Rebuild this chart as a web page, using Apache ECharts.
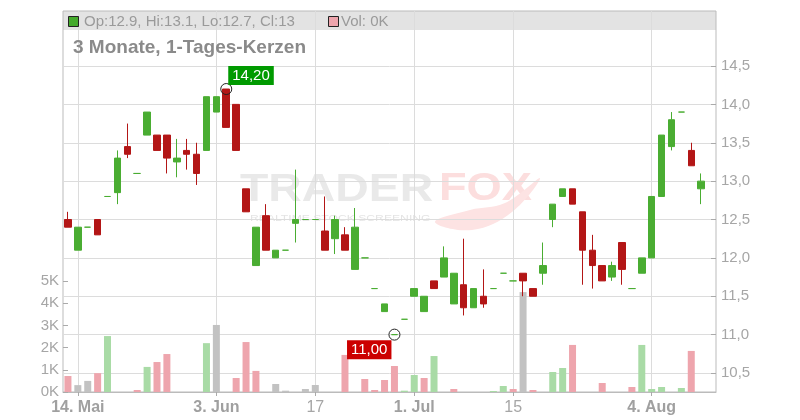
<!DOCTYPE html>
<html><head><meta charset="utf-8">
<script src="https://cdn.jsdelivr.net/npm/echarts@6/dist/echarts.min.js"></script>
<style>html,body{margin:0;padding:0;background:#fff}#c{width:800px;height:420px}</style>
</head><body><div id="c"></div>
<script>
// trading days 13 May 2025 – 12 Aug 2025
const dates = [
 '13.05','14.05','15.05','16.05','19.05','20.05','21.05','22.05','23.05','26.05','27.05','28.05','29.05','30.05',
 '02.06','03.06','04.06','05.06','06.06','09.06','10.06','11.06','12.06','13.06','16.06','17.06','18.06','19.06','20.06',
 '23.06','24.06','25.06','26.06','27.06','30.06',
 '01.07','02.07','03.07','04.07','07.07','08.07','09.07','10.07','11.07','14.07','15.07','16.07','17.07','18.07',
 '21.07','22.07','23.07','24.07','25.07','28.07','29.07','30.07','31.07',
 '01.08','04.08','05.08','06.08','07.08','08.08','11.08','12.08'];
const open  = [12.5,12.1,12.4,12.5,12.8,12.85,13.45,13.1,13.6,13.6,13.6,13.25,13.4,13.35,13.4,13.9,14.2,14.0,12.9,11.9,
               12.55,12.0,12.1,12.45,12.5,12.5,12.35,12.25,12.3,11.85,12.0,11.6,11.3,11.0,11.2,11.5,11.3,11.7,11.75,11.4,
               11.65,11.35,11.5,11.6,11.8,11.7,11.8,11.6,11.8,12.5,12.8,12.9,12.6,12.1,11.9,11.75,12.2,11.6,11.8,12.0,
               12.8,13.45,13.9,13.4,12.9];
const close = [12.4,12.4,12.4,12.3,12.8,13.3,13.35,13.1,13.9,13.4,13.3,13.3,13.35,13.1,14.1,14.1,13.7,13.4,12.6,12.4,
               12.1,12.1,12.1,12.5,12.5,12.5,12.1,12.5,12.1,12.4,12.0,11.6,11.4,11.0,11.2,11.6,11.5,11.6,12.0,11.8,
               11.35,11.6,11.4,11.6,11.8,11.7,11.7,11.5,11.9,12.7,12.9,12.7,12.1,11.9,11.7,11.9,11.85,11.6,12.0,12.8,
               13.6,13.8,13.9,13.2,13.0];
const low   = [12.4,12.1,12.4,12.3,12.8,12.7,13.3,13.1,13.6,13.4,13.1,13.05,13.15,12.95,13.4,13.9,13.7,13.4,12.6,11.9,
               12.1,12.0,12.1,12.2,12.5,12.5,12.1,12.05,12.1,11.85,12.0,11.6,11.3,11.0,11.2,11.5,11.3,11.6,11.75,11.4,
               11.25,11.35,11.35,11.6,11.8,11.7,11.5,11.5,11.65,12.4,12.8,12.7,11.65,11.6,11.7,11.7,11.65,11.6,11.8,12.0,
               12.8,13.4,13.9,13.2,12.7];
const high  = [12.6,12.4,12.4,12.5,12.8,13.4,13.75,13.1,13.9,13.6,13.6,13.55,13.55,13.5,14.1,14.1,14.2,14.0,12.9,12.4,
               12.7,12.1,12.1,13.15,12.5,12.5,12.8,12.55,12.4,12.65,12.0,11.6,11.4,11.0,11.2,11.6,11.5,11.7,12.15,11.8,
               12.25,11.6,11.85,11.6,11.8,11.7,11.8,11.6,12.2,12.7,12.9,12.9,12.6,12.3,11.9,11.95,12.2,11.6,12.0,12.8,
               13.6,13.9,13.9,13.5,13.1];
const volume = [720,310,500,850,2520,0,0,90,1130,1350,1710,0,0,0,2200,3020,0,630,2250,950,
                0,360,60,0,135,315,0,0,1670,0,585,90,540,1170,60,765,630,1620,0,135,
                0,0,0,45,270,135,4500,90,0,900,1080,2120,0,0,405,0,0,225,2120,135,
                225,0,180,1850,0];
const tickDates  = ['14.05','03.06','17.06','01.07','15.07','04.08'];
const tickLabels = ['14. Mai','3. Jun','17','1. Jul','15','4. Aug'];
const tickBold   = [true,true,false,true,false,true];
const priceTicks = {min:10.5, max:14.5, step:0.5};
const volTicks   = {min:0, max:5000, step:1000};
const title = '3 Monate, 1-Tages-Kerzen';

const G='#4aad32', R='#b31616';
const VG='#a9dba6', VR='#eea5ad', VN='#c2c2c2';
const FONT="'Liberation Sans', Arial, sans-serif";
const tickIdx = tickDates.map(d=>dates.indexOf(d));

const candleData = dates.map((d,i)=>{
  if(i>=open.length) return '-';
  const v=[open[i],close[i],low[i],high[i]];
  if(open[i]===close[i]) return {value:v,itemStyle:{color:G,color0:G,borderColor:G,borderColor0:G,borderColorDoji:G}};
  return v;
});
const volData = dates.map((d,i)=>{
  if(i>=volume.length) return '-';
  let c;
  if(i===0) c = close[i]<open[i]?VR:VG;
  else c = close[i]>close[i-1]?VG:(close[i]<close[i-1]?VR:VN);
  return {value:volume[i],itemStyle:{color:c}};
});
let hiIdx=0, loIdx=0;
high.forEach((h,i)=>{ if(h>high[hiIdx]) hiIdx=i; });
low.forEach((l,i)=>{ if(l<low[loIdx]) loIdx=i; });
const fmtP = v => v.toFixed(2).replace('.',',');
const last = open.length-1;
const legendTxt = 'Op:'+open[last]+', Hi:'+high[last]+', Lo:'+low[last]+', Cl:'+close[last];
const volTxt = 'Vol: '+Math.round(volume[last]/1000)+'K';

const L=63, Rgt=84, T=11, B=28; // grid edges: x 63..716, y 11..392
const chart = echarts.init(document.getElementById('c'));
chart.setOption({
  animation:false,
  textStyle:{fontFamily:FONT},
  grid:[
    {left:L,right:Rgt,top:T,bottom:B,show:true,borderColor:'#bbb',borderWidth:1,backgroundColor:'transparent'},
    {left:L,right:Rgt,top:66,bottom:420-373},
    {left:L,right:Rgt,top:281,bottom:B}
  ],
  xAxis:[
    {type:'category',gridIndex:0,data:dates,boundaryGap:true,
     axisLine:{show:true,lineStyle:{color:'#bbb'}},
     axisTick:{show:true,alignWithLabel:true,interval:(i)=>tickIdx.includes(i),length:4,lineStyle:{color:'#aaa'}},
     axisLabel:{interval:(i)=>tickIdx.includes(i),margin:8,fontSize:16,color:'#a6a6a6',fontFamily:FONT,
       formatter:(v)=>{const k=tickDates.indexOf(v); if(k<0) return ''; return tickBold[k]?'{b|'+tickLabels[k]+'}':tickLabels[k];},
       rich:{b:{fontWeight:'bold',fontSize:16,color:'#a0a0a0',fontFamily:FONT}}},
     splitLine:{show:false}},
    {type:'category',gridIndex:1,data:dates,boundaryGap:true,show:false},
    {type:'category',gridIndex:2,data:dates,boundaryGap:true,show:false}
  ],
  yAxis:[
    {type:'value',gridIndex:0,min:0,max:1,show:false},
    {type:'value',gridIndex:1,position:'right',min:priceTicks.min,max:priceTicks.max,interval:priceTicks.step,
     axisLine:{show:false},
     axisTick:{show:true,inside:true,length:5,lineStyle:{color:'#aaa'}},
     axisLabel:{margin:5,fontSize:15,color:'#a6a6a6',fontFamily:FONT,formatter:v=>v.toFixed(1).replace('.',',')},
     splitLine:{show:true,lineStyle:{color:'#dcdcdc',width:1}}},
    {type:'value',gridIndex:2,position:'left',min:volTicks.min,max:volTicks.max,interval:volTicks.step,
     axisLine:{show:false},
     axisTick:{show:true,inside:true,length:5,lineStyle:{color:'#aaa'}},
     axisLabel:{margin:4,fontSize:15,color:'#a6a6a6',fontFamily:FONT,formatter:v=>(v/1000)+'K'},
     splitLine:{show:false}}
  ],
  series:[
    {type:'line',xAxisIndex:0,yAxisIndex:0,data:dates.map(()=>'-'),silent:true,showSymbol:false,z:0,
     markLine:{silent:true,z:0,symbol:'none',label:{show:false},lineStyle:{color:'#dcdcdc',width:1,type:'solid'},
       data:tickDates.map(d=>({xAxis:d}))}},
    {type:'bar',xAxisIndex:2,yAxisIndex:2,data:volData,barWidth:7,silent:true,z:2},
    {type:'candlestick',xAxisIndex:1,yAxisIndex:1,data:candleData,barWidth:7,silent:true,z:2,
     itemStyle:{color:G,color0:R,borderColor:G,borderColor0:R,borderColorDoji:G,borderWidth:1},
     markPoint:{symbol:'circle',symbolSize:11,silent:true,
       itemStyle:{color:'rgba(255,255,255,0)',borderColor:'#222',borderWidth:1},
       data:[
        {coord:[hiIdx,high[hiIdx]],label:{show:true,formatter:fmtP(high[hiIdx]),position:[8,-17],align:'left',verticalAlign:'top',
          backgroundColor:'#009a00',color:'#fff',padding:[2,4,1,4],fontSize:15,lineHeight:16,fontFamily:FONT}},
        {coord:[loIdx,low[loIdx]],label:{show:true,formatter:fmtP(low[loIdx]),position:[3,11.5],align:'right',verticalAlign:'top',
          backgroundColor:'#cc0000',color:'#fff',padding:[2,4,1,4],fontSize:15,lineHeight:16,fontFamily:FONT}}
       ]}}
  ],
  graphic:[
    {type:'rect',z:-1,shape:{x:63,y:11,width:653,height:19},style:{fill:'#e3e3e3'}},
    {type:'text',z:-1,x:240,y:191,scaleX:1.22,style:{text:'TRADER',x:0,y:0,textAlign:'left',textVerticalAlign:'middle',font:'bold 38px '+FONT,fill:'#e9e9e9'}},
    {type:'text',z:-1,x:439,y:190,scaleX:1.19,style:{text:'FOX',x:0,y:0,textAlign:'left',textVerticalAlign:'middle',font:'bold 38px '+FONT,fill:'#fcdede'}},
    {type:'text',z:-1,x:250,y:219,scaleX:1.35,style:{text:'REALTIME STOCK SCREENING',x:0,y:0,textAlign:'left',textVerticalAlign:'middle',font:'9px '+FONT,fill:'#e4e4e4'}},
    {type:'polygon',z:-1,shape:{points:[[435,222],[472,230],[512,212],[540,178],[505,203],[470,210]],smooth:0.4},style:{fill:'#fde3e3'}},
    {type:'rect',z:5,shape:{x:68.5,y:16.5,width:10,height:10},style:{fill:'#44aa2c',stroke:'#222',lineWidth:1}},
    {type:'text',z:5,x:84,y:21.5,style:{text:legendTxt,textVerticalAlign:'middle',font:'15px '+FONT,fill:'#9a9a9a'}},
    {type:'rect',z:5,shape:{x:328.5,y:16.5,width:10,height:10},style:{fill:'#eea5ad',stroke:'#222',lineWidth:1}},
    {type:'text',z:5,x:341,y:21.5,style:{text:volTxt,textVerticalAlign:'middle',font:'15px '+FONT,fill:'#9a9a9a'}},
    {type:'text',z:5,x:73,y:48,style:{text:title,textVerticalAlign:'middle',font:'bold 19px '+FONT,fill:'#8a8a8a'}}
  ]
});
</script></body></html>
